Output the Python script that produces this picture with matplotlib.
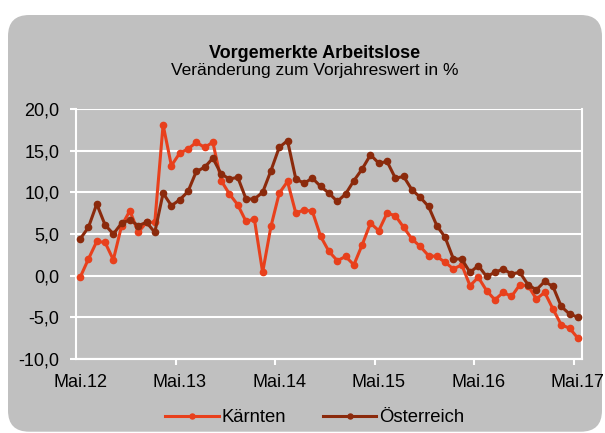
import numpy as np
import matplotlib
matplotlib.use("Agg")
import matplotlib.pyplot as plt
from matplotlib.patches import FancyBboxPatch

plt.rcParams['font.family'] = ['Liberation Sans', 'DejaVu Sans']

# monthly values, May 2012 .. May 2017
kaernten = [-0.2, 2.0, 4.1, 4.0, 1.9, 6.0, 7.8, 5.2, 6.4, 6.4,
            18.1, 13.2, 14.7, 15.2, 16.0, 15.4, 16.0, 11.4, 9.8, 8.5,
            6.5, 6.8, 0.4, 5.9, 9.9, 11.3, 7.5, 7.9, 7.7, 4.7,
            2.9, 1.8, 2.3, 1.3, 3.7, 6.3, 5.4, 7.5, 7.2, 5.8,
            4.4, 3.5, 2.4, 2.3, 1.6, 0.8, 1.3, -1.2, -0.2, -1.8,
            -2.9, -2.0, -2.5, -1.1, -1.2, -2.8, -2.0, -4.0, -5.9, -6.3,
            -7.5]
oesterreich = [4.4, 5.8, 8.6, 6.1, 5.0, 6.3, 6.7, 6.0, 6.4, 5.2,
               9.9, 8.4, 9.1, 10.1, 12.5, 13.0, 14.1, 12.2, 11.6, 11.8,
               9.2, 9.2, 10.0, 12.6, 15.4, 16.2, 11.6, 11.1, 11.7, 10.7,
               9.9, 8.9, 9.8, 11.4, 12.8, 14.5, 13.5, 13.7, 11.7, 11.9,
               10.3, 9.4, 8.3, 6.0, 4.6, 2.0, 2.0, 0.4, 1.2, -0.1,
               0.4, 0.8, 0.2, 0.4, -1.1, -1.7, -0.7, -1.3, -3.7, -4.6,
               -5.0]
xLabels = ["Mai.12", "Mai.13", "Mai.14", "Mai.15", "Mai.16", "Mai.17"]
yTicks = [-10, -5, 0, 5, 10, 15, 20]

bg = "#c0c0c0"
colK = "#e8401c"
colOe = "#8b2a0c"

fig = plt.figure(figsize=(6.05, 4.33), dpi=100)
fig.patch.set_facecolor("white")

# rounded grey chart area
box = FancyBboxPatch((8 / 605, 0.003), 594 / 605, 1 - 15 / 433 - 0.003,
                     boxstyle="round,pad=0,rounding_size=0.035",
                     transform=fig.transFigure, facecolor=bg, edgecolor="none",
                     mutation_aspect=605 / 433, zorder=-10)
fig.patches.append(box)

ax = fig.add_axes([76 / 605, 1 - 359 / 433, 506 / 605, 250 / 433])
ax.set_facecolor(bg)

x = np.arange(len(kaernten))
ax.plot(x, kaernten, color=colK, lw=2.2, marker="o", ms=4.5, label="Kärnten", zorder=3)
ax.plot(x, oesterreich, color=colOe, lw=2.2, marker="o", ms=4.5, label="Österreich", zorder=3)

ax.set_xlim(-0.5, len(kaernten) - 0.5)
ax.set_ylim(-10, 20)
ax.set_yticks(yTicks)
ax.set_yticklabels([("%.1f" % v).replace(".", ",") for v in yTicks], fontsize=13)
ax.yaxis.grid(True, color="white", lw=1.5)
ax.set_axisbelow(True)
ax.tick_params(axis="y", length=4.3, color="white", width=1.5, pad=7.7)

ax.set_xticks(x[::12])
ax.set_xticklabels(xLabels, fontsize=13)
ax.tick_params(axis="x", length=0, pad=11)

for s in ["left", "right", "bottom", "top"]:
    ax.spines[s].set_color("white")
    ax.spines[s].set_linewidth(1.5)
ax.spines["top"].set_visible(False)

# category axis crosses at 0 with small ticks between years
sec = ax.secondary_xaxis(0)
sec.set_xticks(np.arange(11.5, len(kaernten), 12))
sec.set_xticklabels([])
sec.tick_params(axis="x", length=4, color="white", width=1.5)
sec.spines["bottom"].set_color("white")
sec.spines["bottom"].set_linewidth(1.5)

fig.text(0.52, 1 - 53 / 433, "Vorgemerkte Arbeitslose", ha="center", va="center",
         fontsize=13, fontweight="bold")
fig.text(0.52, 1 - 70.5 / 433, "Veränderung zum Vorjahreswert in %", ha="center", va="center",
         fontsize=12.5)

fig.legend(loc="center", bbox_to_anchor=(0.52, 1 - 418 / 433), ncol=2, frameon=False,
           fontsize=13.3, handlelength=2.9, columnspacing=2.0, handletextpad=0.15,
           markerscale=0.8)

fig.savefig("out.png", dpi=100, facecolor=fig.get_facecolor())
